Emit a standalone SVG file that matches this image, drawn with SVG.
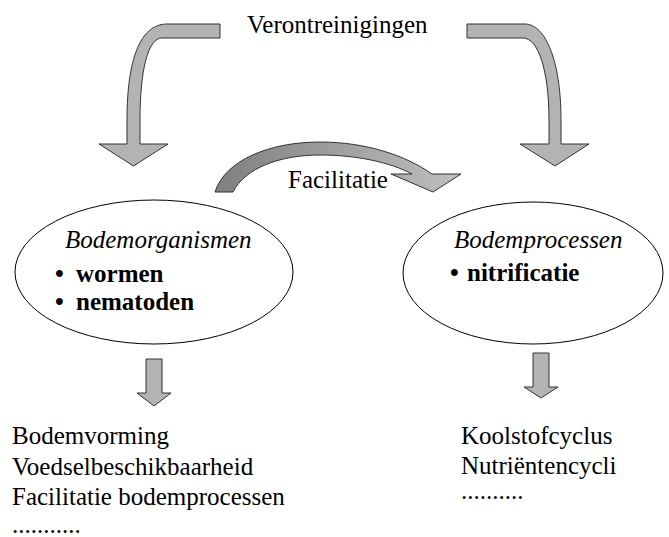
<svg xmlns="http://www.w3.org/2000/svg" width="669" height="537" viewBox="0 0 669 537">
<defs>
<style>
.t{font-family:"Liberation Serif","DejaVu Serif",serif;font-size:25px;fill:#000}
.i{font-style:italic}
.b{font-weight:bold}
.arr{fill:#b3b3b3;stroke:#333;stroke-width:1;stroke-linejoin:miter}
.ell{fill:none;stroke:#000;stroke-width:1}
</style>
<linearGradient id="fg" x1="0" y1="0" x2="1" y2="0">
<stop offset="0" stop-color="#7f7f7f"/>
<stop offset="1" stop-color="#bfbfbf"/>
</linearGradient>
</defs>
<rect width="669" height="537" fill="#fff"/>
<g id="verontreinigingen">
<text class="t" x="247" y="33">Verontreinigingen</text>
</g>
<g id="bodemorganismen">
<ellipse class="ell" cx="154" cy="272" rx="139" ry="72"/>
<text class="t i" x="65" y="248">Bodemorganismen</text>
<text class="t b" x="55" y="282">•</text>
<text class="t b" x="76" y="282">wormen</text>
<text class="t b" x="55" y="310">•</text>
<text class="t b" x="76" y="310">nematoden</text>
</g>
<g id="bodemprocessen">
<ellipse class="ell" cx="533" cy="273" rx="130" ry="71"/>
<text class="t i" x="454" y="248">Bodemprocessen</text>
<text class="t b" x="450" y="281">•</text>
<text class="t b" x="467" y="281">nitrificatie</text>
</g>
<g id="effecten-organismen">
<text class="t" x="12" y="444">Bodemvorming</text>
<text class="t" x="12" y="475">Voedselbeschikbaarheid</text>
<text class="t" x="12" y="505">Facilitatie bodemprocessen</text>
<text class="t" x="12" y="533">...........</text>
</g>
<g id="effecten-processen">
<text class="t" x="461" y="444">Koolstofcyclus</text>
<text class="t" x="461" y="474">Nutriëntencycli</text>
<text class="t" x="461" y="499">..........</text>
</g>
<g id="connectors">
<path class="arr" d="M220,24 L167,24 C140,24 127,60 127,120 L127,144 L99,144 L133.5,166 L168,144 L140,144 L140,120 C140,70 148,38 162,38 L220,38 Z"/>
<path class="arr" d="M467,24 L525,24 C545,24 561,60 561,120 L561,144 L589,144 L555,166 L520,144 L549,144 L549,120 C549,70 538,38 523,38 L467,38 Z"/>
<path d="M215,192 C225,160 270,142 320,142 C365,142 405,155 432,174 L461,174 L433,192 L391,174 L412,174 C390,162 355,155 320,155 C280,155 245,168 233,192 Z" fill="url(#fg)" stroke="#333" stroke-width="1"/>
<text class="t" x="288" y="188">Facilitatie</text>
<path class="arr" d="M146,359 L162,359 L162,393 L171,393 L154,406 L137,393 L146,393 Z"/>
<path class="arr" d="M533,353 L549,353 L549,387 L558,387 L541,398 L524,387 L533,387 Z"/>
</g>
</svg>
